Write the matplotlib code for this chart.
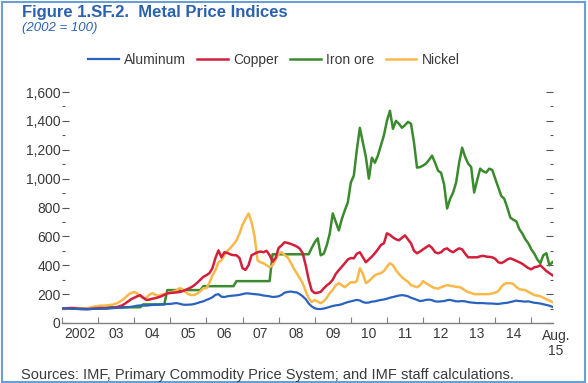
import numpy as np
import matplotlib
matplotlib.use("Agg")
import matplotlib.pyplot as plt
from matplotlib.patches import Rectangle

plt.rcParams['font.family'] = ['Liberation Sans', 'DejaVu Sans']

# monthly index values, Jan 2002 - Aug 2015 (2002 = 100)
aluminum = [
    100, 101, 100, 99, 98, 97, 96, 96, 95, 96, 97, 99,
    100, 100, 101, 100, 102, 103, 104, 105, 106, 108, 110, 112,
    116, 120, 122, 121, 120, 123, 125, 126, 126, 128, 130, 132,
    132, 135, 138, 134, 128, 126, 127, 128, 132, 138, 145, 150,
    160, 168, 178, 195, 200, 182, 180, 185, 188, 190, 192, 195,
    200, 205, 205, 202, 200, 198, 195, 190, 188, 185, 180, 182,
    185, 195, 210, 215, 218, 214, 212, 200, 185, 165, 135, 115,
    102, 97, 97, 100, 105, 112, 118, 122, 125, 130, 138, 145,
    150, 155, 160, 156, 145, 140, 142, 148, 150, 155, 160, 163,
    168, 175, 180, 185, 190, 193, 190, 185, 175, 168, 160, 152,
    155, 160, 162, 158, 150, 148, 150, 152, 158, 160, 155, 150,
    150, 152, 150, 145, 142, 140, 138, 138, 138, 136, 135, 135,
    133, 132, 135, 138, 140, 145, 150, 155, 152, 150, 148, 150,
    145, 140, 138, 135, 130, 125, 120, 112,
]
copper = [
    100, 101, 103, 104, 103, 100, 98, 97, 96, 97, 99, 100,
    102, 104, 103, 102, 104, 106, 110, 115, 122, 135, 150, 165,
    175, 185, 193, 175, 160, 162, 168, 172, 178, 185, 195, 205,
    208, 210, 212, 214, 220, 228, 238, 248, 262, 280, 300, 320,
    331, 345, 380, 450, 503, 455, 490, 485, 475, 470, 469, 450,
    380, 368, 400, 469, 480, 490, 495, 490, 500, 470, 425, 450,
    520, 538, 559, 555, 548, 540, 530, 515, 483, 400, 300, 225,
    207, 210, 216, 240, 260, 276, 300, 340, 366, 390, 414, 440,
    450, 448, 480, 490, 455, 421, 440, 460, 483, 510, 540, 552,
    621, 610, 593, 580, 573, 590, 607, 580, 552, 500, 483, 495,
    510, 524, 538, 520, 490, 483, 490, 510, 517, 500, 490, 505,
    517, 510, 480, 455, 455, 455, 455, 462, 465, 460, 458, 455,
    445, 421, 415, 425, 440, 448, 440, 430, 421, 410, 395, 380,
    372, 386, 390, 400, 380, 360, 345, 331,
]
iron_ore = [
    100, 100, 100, 100, 100, 100, 100, 100, 100, 100, 100, 100,
    100, 100, 100, 109, 109, 109, 109, 109, 109, 109, 109, 109,
    109, 109, 109, 129, 129, 129, 129, 129, 129, 129, 129, 228,
    228, 228, 228, 228, 228, 228, 228, 228, 228, 228, 228, 255,
    255, 255, 255, 255, 255, 255, 255, 255, 255, 255, 290, 290,
    290, 290, 290, 290, 290, 290, 290, 290, 290, 290, 476, 476,
    476, 476, 476, 476, 476, 476, 476, 476, 476, 476, 476, 520,
    559, 587, 469, 480, 538, 620, 759, 700, 641, 720, 780, 835,
    973, 1021, 1200, 1352, 1250, 1150, 1000, 1145, 1110, 1160, 1230, 1300,
    1400, 1470, 1345, 1400, 1380, 1352, 1370, 1393, 1380, 1250, 1076, 1080,
    1090, 1104, 1130, 1159, 1110, 1055, 1040, 960, 793, 860, 904, 973,
    1110, 1214, 1150, 1104, 1080, 904, 990, 1069, 1050, 1042, 1069, 1060,
    1000, 938, 880, 860, 800, 731, 715, 705, 650, 620, 580, 552,
    510, 480, 440, 414, 470, 483, 400, 421,
]
nickel = [
    100, 98, 100, 102, 104, 103, 100, 98, 100, 105, 110, 115,
    118, 120, 120, 122, 125, 128, 135, 145, 158, 175, 195, 208,
    214, 205, 185, 172, 175, 195, 207, 195, 190, 195, 200, 205,
    210, 218, 225, 241, 235, 215, 200, 193, 195, 205, 220, 241,
    241, 280, 330, 366, 420, 434, 470, 500, 520, 545, 572, 620,
    680, 720, 759, 700, 600, 434, 420, 414, 400, 386, 400, 440,
    480, 490, 470, 455, 420, 380, 345, 310, 276, 220, 172, 145,
    159, 148, 138, 150, 175, 207, 230, 260, 276, 262, 248, 265,
    283, 280, 290, 379, 340, 276, 290, 310, 331, 340, 345, 360,
    390, 414, 400, 366, 340, 317, 300, 285, 262, 255, 248, 260,
    290, 276, 262, 250, 241, 238, 248, 255, 262, 258, 255, 250,
    250, 240, 225, 214, 208, 200, 200, 200, 200, 200, 200, 205,
    210, 220, 250, 270, 276, 276, 270, 250, 235, 230, 228, 215,
    205, 193, 190, 185, 175, 165, 155, 145,
]
year_labels = ["2002", "03", "04", "05", "06", "07", "08", "09", "10",
               "11", "12", "13", "14"]

months = np.arange(len(aluminum))
t = 2002 + months / 12.0

blue = '#2b62b0'
grey = '#3a3a3a'

fig = plt.figure(figsize=(5.88, 3.83), dpi=100)
ax = fig.add_axes([62/588, 1-323/383, (553-62)/588, (323-92)/383])

ax.plot(t, iron_ore, color='#3b8a2e', lw=1.8, label='Iron ore', zorder=2)
ax.plot(t, nickel, color='#f8b84a', lw=1.8, label='Nickel', zorder=3)
ax.plot(t, copper, color='#d11f3c', lw=1.8, label='Copper', zorder=4)
ax.plot(t, aluminum, color='#2a62c0', lw=1.6, label='Aluminum', zorder=5)

ax.set_xlim(2002, 2015.6)
ax.set_ylim(0, 1600)

for s in ['top', 'left', 'right']:
    ax.spines[s].set_visible(False)
ax.spines['bottom'].set_color('#808080')
ax.spines['bottom'].set_linewidth(1.0)

ax.set_yticks(np.arange(0, 1601, 200))
ax.set_yticks(np.arange(100, 1600, 200), minor=True)
ax.set_yticklabels(['{:,}'.format(v) for v in range(0, 1601, 200)])
ax.tick_params(axis='y', which='major', direction='in', length=5, width=0.8,
               color='#555555', labelsize=10, labelcolor=grey, pad=1, right=True)
ax.tick_params(axis='y', which='minor', direction='in', length=2.5, width=0.8,
               color='#555555', right=True)

ax.set_xticks(np.arange(2002, 2016))
ax.set_xticklabels([])
ax.set_xticks(np.arange(2002.5, 2015), minor=True)
ax.set_xticklabels(year_labels, minor=True)
ax.tick_params(axis='x', which='major', direction='in', length=4, width=0.8,
               color='#808080')
ax.tick_params(axis='x', which='minor', length=0, labelsize=10,
               labelcolor=grey, pad=3)
ax.text(2015.68, -42, 'Aug.\n15', ha='center', va='top', fontsize=10,
        color=grey, linespacing=1.05, clip_on=False)

handles, labels = ax.get_legend_handles_labels()
order = [3, 2, 0, 1]
fig.legend([handles[i] for i in order], [labels[i] for i in order],
           loc='center', bbox_to_anchor=(274/588, 1-60/383), ncol=4,
           frameon=False, fontsize=10, handlelength=2.2, handletextpad=0.4,
           columnspacing=0.8, labelcolor=grey)

fig.text(22/588, 1-17/383, 'Figure 1.SF.2.  Metal Price Indices',
         fontsize=12, fontweight='bold', color=blue, va='baseline')
fig.text(22/588, 1-31/383, '(2002 = 100)', fontsize=9.5, style='italic',
         color=blue, va='baseline')
fig.text(21/588, 1-375/383,
         'Sources: IMF, Primary Commodity Price System; and IMF staff calculations.',
         fontsize=10.5, color=grey, va='center')

fig.patches.append(Rectangle((2/588, 1/383), 583/588, 380/383,
                             transform=fig.transFigure, fill=False,
                             edgecolor='#6a9fd4', lw=1.5))

fig.savefig('out.png', dpi=100)
